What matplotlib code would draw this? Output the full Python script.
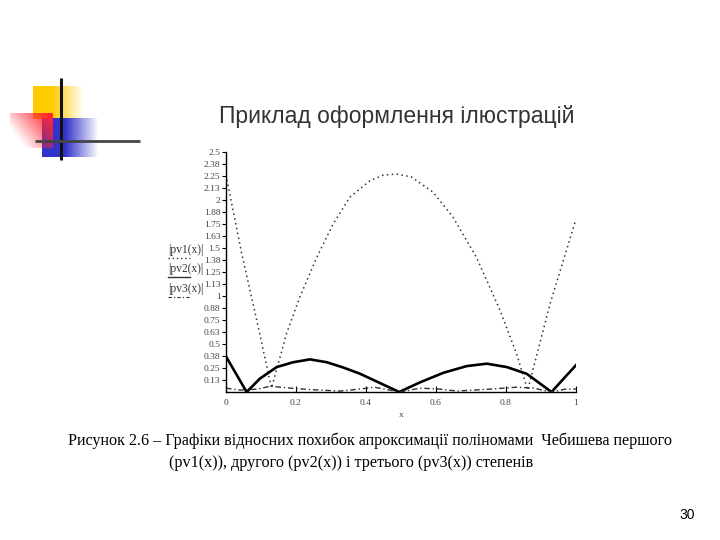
import numpy as np
import matplotlib
matplotlib.use('Agg')
import matplotlib.pyplot as plt

# |pv1(x)| - dotted
x1 = [0, 0.045, 0.092, 0.13, 0.173, 0.211, 0.259, 0.306, 0.354, 0.411, 0.45, 0.488, 0.53, 0.592, 0.649, 0.716, 0.783, 0.83, 0.862, 0.926, 1.0]
y1 = [2.26, 1.44, 0.68, 0.04, 0.61, 0.99, 1.40, 1.75, 2.03, 2.20, 2.26, 2.27, 2.24, 2.08, 1.82, 1.40, 0.85, 0.40, 0.02, 0.92, 1.80]
# |pv2(x)| - solid
x2 = [0, 0.059, 0.097, 0.145, 0.192, 0.24, 0.288, 0.335, 0.383, 0.43, 0.495, 0.554, 0.621, 0.688, 0.745, 0.802, 0.859, 0.93, 1.0]
y2 = [0.37, 0.0, 0.14, 0.26, 0.31, 0.34, 0.31, 0.255, 0.19, 0.11, 0.0, 0.10, 0.20, 0.27, 0.295, 0.26, 0.19, 0.0, 0.28]
# |pv3(x)| - dash-dot
x3 = [0, 0.04, 0.09, 0.126, 0.2, 0.267, 0.326, 0.38, 0.424, 0.497, 0.554, 0.611, 0.66, 0.754, 0.83, 0.88, 0.928, 0.97, 1.0]
y3 = [0.04, 0.02, 0.03, 0.06, 0.035, 0.02, 0.01, 0.03, 0.05, 0.0, 0.04, 0.03, 0.01, 0.03, 0.05, 0.04, 0.0, 0.03, 0.03]

yticks = [0.125 * k for k in range(1, 21)]
ytick_labels = ['0.13', '0.25', '0.38', '0.5', '0.63', '0.75', '0.88', '1', '1.13', '1.25',
                '1.38', '1.5', '1.63', '1.75', '1.88', '2', '2.13', '2.25', '2.38', '2.5']
xticks = [0, 0.2, 0.4, 0.6, 0.8, 1]
xtick_labels = ['0', '0.2', '0.4', '0.6', '0.8', '1']

title = 'Приклад оформлення ілюстрацій'
caption1 = 'Рисунок 2.6 – Графіки відносних похибок апроксимації поліномами  Чебишева першого'
caption2 = '(pv1(x)), другого (pv2(x)) і третього (pv3(x)) степенів'

W, H = 720, 540
fig = plt.figure(figsize=(7.2, 5.4), dpi=100, facecolor='white')

# slide decoration in pixel coordinates
deco = fig.add_axes([0, 0, 1, 1], zorder=0)
deco.set_xlim(0, W)
deco.set_ylim(H, 0)
deco.axis('off')


def grad_rect(ax, x0, y0, x1, y1, rgb, alpha_fn):
    nx, ny = 120, 60
    u = np.linspace(0, 1, nx)[None, :].repeat(ny, 0)
    v = np.linspace(0, 1, ny)[:, None].repeat(nx, 1)
    img = np.zeros((ny, nx, 4))
    img[..., :3] = rgb
    img[..., 3] = np.clip(alpha_fn(u, v), 0, 1)
    ax.imshow(img, extent=(x0, x1, y1, y0), origin='upper', aspect='auto', interpolation='bilinear')


grad_rect(deco, 33, 86, 84, 119, (1.0, 0.8, 0.0), lambda u, v: 1.6 - 1.6 * u)
grad_rect(deco, 42, 118, 102, 157, (0.2, 0.2, 0.8), lambda u, v: 1.7 - 1.8 * u)
grad_rect(deco, 10, 113, 53, 148, (1.0, 0.15, 0.2), lambda u, v: 0.25 + 0.85 * u - 0.55 * v)
deco.plot([61, 61], [78, 160], color='#111111', lw=2.2, solid_capstyle='butt')
deco.plot([35, 140], [141, 141], color='#444444', lw=2.0, solid_capstyle='butt')

fig.text(397 / W, 1 - 117 / H, title, ha='center', va='center', fontsize=16.5,
         family='Liberation Sans', color='#333333')

# chart
ax = fig.add_axes([226 / W, 1 - 392 / H, 350 / W, 240 / H], zorder=2)
ax.set_facecolor('none')
ax.plot(x1, y1, color='#333333', lw=1.1, linestyle=(0, (1, 2.2)))
ax.plot(x2, y2, color='black', lw=1.9)
ax.plot(x3, y3, color='#333333', lw=1.0, linestyle=(0, (4, 2, 1, 2)))
ax.set_xlim(0, 1)
ax.set_ylim(0, 2.5)
for s in ['top', 'right']:
    ax.spines[s].set_visible(False)
for s in ['left', 'bottom']:
    ax.spines[s].set_linewidth(1.0)
ax.set_yticks(yticks)
ax.set_yticklabels(ytick_labels, family='Liberation Serif', fontsize=6.8, color='#444444')
ax.set_xticks(xticks)
ax.set_xticklabels(xtick_labels, family='Liberation Serif', fontsize=6.8, color='#444444')
ax.tick_params(axis='y', direction='out', length=3, width=0.8, pad=1)
ax.tick_params(axis='x', direction='in', length=4, width=0.8, pad=5)
ax.set_xlabel('x', family='Liberation Serif', fontsize=6.8, color='#444444', labelpad=3)

# legend at the left of the axis
leg_items = [('|pv1(x)|', 250, (0, (1, 2)), 1.0),
             ('|pv2(x)|', 269, '-', 1.0),
             ('|pv3(x)|', 289, (0, (3, 2, 1, 2)), 0.8)]
for txt, yy, ls, lw in leg_items:
    fig.text(186 / W, 1 - yy / H, txt, ha='center', va='center',
             family='Liberation Serif', fontsize=8.3, color='#333333')
    deco.plot([168, 190], [yy + 8, yy + 8], color='#333333', lw=lw, linestyle=ls)

fig.text(370 / W, 1 - 441 / H, caption1, ha='center', va='center',
         family='Liberation Serif', fontsize=11.6, color='black')
fig.text(351 / W, 1 - 463 / H, caption2, ha='center', va='center',
         family='Liberation Serif', fontsize=11.6, color='black')
fig.text(687 / W, 1 - 515 / H, '30', ha='center', va='center',
         family='Liberation Sans', fontsize=10, color='black')

fig.savefig('out.png', dpi=100, facecolor='white')
